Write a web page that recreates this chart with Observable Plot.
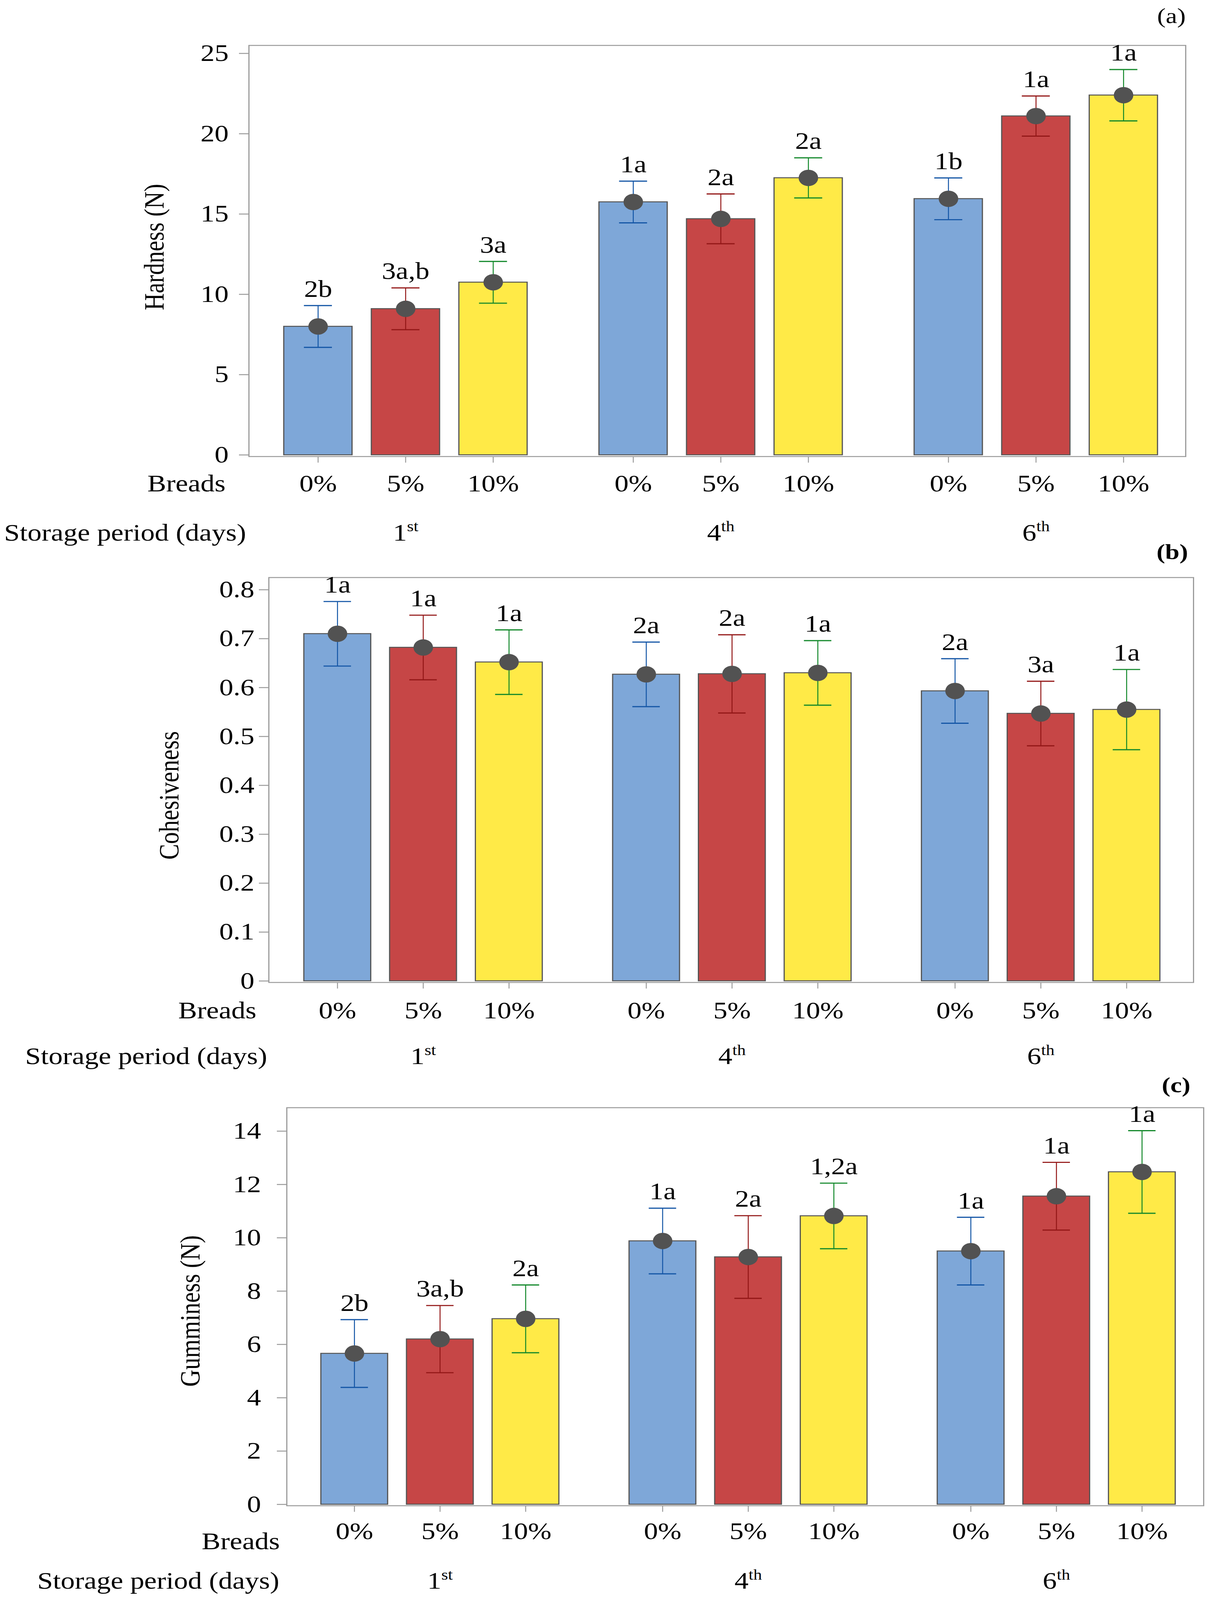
<!DOCTYPE html>
<html><head><meta charset="utf-8">
<script src="https://cdn.jsdelivr.net/npm/d3@7"></script>
<script src="https://cdn.jsdelivr.net/npm/@observablehq/plot@0.6"></script>
<style>
html,body{margin:0;padding:0;background:#fff;overflow:hidden;}
#chart{position:relative;width:3091px;height:4880px;background:#fff;transform-origin:0 0;}
#chart svg{display:block;position:absolute;left:0;max-width:none;}
</style></head><body><div id="chart"></div>
<script>
// ---- data ----
const storagePeriods = ["1st", "4th", "6th"];
const breads = ["0%", "5%", "10%"];

const hardnessMean = [8.0, 9.1, 10.75, 15.75, 14.7, 17.25, 15.95, 21.1, 22.4];
const hardnessErr = [1.3, 1.3, 1.3, 1.3, 1.55, 1.25, 1.3, 1.25, 1.6];
const hardnessLetters = ["2b", "3a,b", "3a", "1a", "2a", "2a", "1b", "1a", "1a"];
const hardnessTicks = [0, 5, 10, 15, 20, 25];

const cohesivenessMean = [0.71, 0.682, 0.652, 0.627, 0.628, 0.63, 0.593, 0.547, 0.555];
const cohesivenessErr = [0.066, 0.066, 0.066, 0.066, 0.08, 0.066, 0.066, 0.066, 0.082];
const cohesivenessLetters = ["1a", "1a", "1a", "2a", "2a", "1a", "2a", "3a", "1a"];
const cohesivenessTicks = [0, 0.1, 0.2, 0.3, 0.4, 0.5, 0.6, 0.7, 0.8];

const gumminessMean = [5.66, 6.2, 6.96, 9.88, 9.28, 10.82, 9.5, 11.56, 12.47];
const gumminessErr = [1.27, 1.26, 1.27, 1.23, 1.55, 1.23, 1.27, 1.27, 1.55];
const gumminessLetters = ["2b", "3a,b", "2a", "1a", "2a", "1,2a", "1a", "1a", "1a"];
const gumminessTicks = [0, 2, 4, 6, 8, 10, 12, 14];

// ---- styling ----
const FONT = "Liberation Serif";
const FS = 72;
const barFill = ["#7ea7d8", "#c64646", "#ffea47"];
const errColor = ["#1456a6", "#931717", "#12882a"];
const GROUP_STEP = 3.6;

function rowsFor(mean, err, letters) {
  return mean.map((m, i) => {
    const g = Math.floor(i / 3), b = i % 3;
    return {storage: storagePeriods[g], bread: breads[b], g, b,
            pos: g * GROUP_STEP + b, mean: m, err: err[i], letter: letters[i]};
  });
}

const panels = [
  {mean: hardnessMean, err: hardnessErr, letters: hardnessLetters, ticks: hardnessTicks,
   title: "Hardness (N)", tag: "(a)", tagBold: false,
   top: 0, h: 1700, mt: 138, mb: 308, ml: 637, mr: 55,
   xDomain: [-0.79, 9.91], yDomain: [-0.1, 25.5], tickPad: 27,
   tagDx: 0, tagDy: -89, titleDx: -242, titleDy: -12,
   breadsDx: -60, breadsDy: 83, rowDy: 83, storageDy: 233, storageTitleDx: -627,
   fmt: d => String(d)},
  {mean: cohesivenessMean, err: cohesivenessErr, letters: cohesivenessLetters, ticks: cohesivenessTicks,
   title: "Cohesiveness", tag: "(b)", tagBold: true,
   top: 1640, h: 1680, mt: 121, mb: 324, ml: 688, mr: 35,
   xDomain: [-0.8, 9.98], yDomain: [-0.003, 0.825], tickPad: 12,
   tagDx: -14, tagDy: -78, titleDx: -255, titleDy: 47,
   breadsDx: -32, breadsDy: 87, rowDy: 87, storageDy: 226, storageTitleDx: -624,
   fmt: d => String(+d.toFixed(1))},
  {mean: gumminessMean, err: gumminessErr, letters: gumminessLetters, ticks: gumminessTicks,
   title: "Gumminess (N)", tag: "(c)", tagBold: true,
   top: 3260, h: 1620, mt: 118, mb: 288, ml: 734, mr: 9,
   xDomain: [-0.79, 9.92], yDomain: [-0.05, 14.88], tickPad: 41,
   tagDx: -34, tagDy: -69, titleDx: -247, titleDy: 13,
   breadsDx: -18, breadsDy: 109, rowDy: 79, storageDy: 230, storageTitleDx: -639,
   fmt: d => String(d)}
];

const container = document.getElementById("chart");

for (const p of panels) {
  const rows = rowsFor(p.mean, p.err, p.letters);
  const positions = rows.map(d => d.pos);
  const half = 0.39, cap = 0.16;
  const svg = Plot.plot({
    width: 3091,
    height: p.h,
    marginTop: p.mt, marginBottom: p.mb, marginLeft: p.ml, marginRight: p.mr,
    style: {fontFamily: FONT, fontSize: FS + "px", color: "black", background: "transparent", overflow: "visible"},
    x: {type: "linear", domain: p.xDomain},
    y: {domain: p.yDomain},
    marks: [
      Plot.rectY(rows, {x1: d => d.pos - half, x2: d => d.pos + half, y1: 0, y2: "mean",
        fill: d => barFill[d.b], stroke: "#555555", strokeWidth: 3}),
      Plot.frame({stroke: "#9c9c9c", strokeWidth: 3}),
      Plot.axisY({ticks: p.ticks, tickSize: 25, tickPadding: p.tickPad, tickFormat: p.fmt,
        stroke: "#9c9c9c", strokeWidth: 3, fill: "black", fontSize: FS, label: null}),
      Plot.axisX({ticks: positions, tickSize: 19, tickFormat: () => "",
        stroke: "#9c9c9c", strokeWidth: 2.5, label: null}),
      Plot.ruleX(rows, {x: "pos", y1: d => d.mean - d.err, y2: d => d.mean + d.err,
        stroke: d => errColor[d.b], strokeWidth: 2.5}),
      Plot.ruleY(rows, {y: d => d.mean + d.err, x1: d => d.pos - cap, x2: d => d.pos + cap,
        stroke: d => errColor[d.b], strokeWidth: 3.5}),
      Plot.ruleY(rows, {y: d => d.mean - d.err, x1: d => d.pos - cap, x2: d => d.pos + cap,
        stroke: d => errColor[d.b], strokeWidth: 3.5}),
      Plot.dot(rows, {x: "pos", y: "mean", r: 25, fill: "#525252", stroke: "none"}),
      Plot.text(rows, {x: "pos", y: d => d.mean + d.err, text: "letter", dy: -27,
        lineAnchor: "bottom", fontSize: FS, fill: "black"}),
      Plot.text(rows, {x: "pos", text: "bread", frameAnchor: "bottom", dy: p.rowDy,
        lineAnchor: "middle", fontSize: FS, fill: "black"}),
      Plot.text(storagePeriods, {x: (d, i) => i * GROUP_STEP + 1, text: d => d, frameAnchor: "bottom",
        dy: p.storageDy, lineAnchor: "middle", fontSize: FS, fill: "black"}),
      Plot.text(["Breads"], {frameAnchor: "bottom-left", dx: p.breadsDx, dy: p.breadsDy,
        textAnchor: "end", lineAnchor: "middle", fontSize: FS, fill: "black"}),
      Plot.text(["Storage period (days)"], {frameAnchor: "bottom-left", dx: p.storageTitleDx, dy: p.storageDy,
        textAnchor: "start", lineAnchor: "middle", fontSize: FS, fill: "black"}),
      Plot.text([p.title], {frameAnchor: "left", dx: p.titleDx, dy: p.titleDy, rotate: -90,
        textAnchor: "middle", lineAnchor: "middle", fontSize: FS, fill: "black"}),
      Plot.text([p.tag], {frameAnchor: "top-right", dx: p.tagDx, dy: p.tagDy,
        textAnchor: "end", lineAnchor: "middle", fontSize: 66, fill: "black",
        fontWeight: p.tagBold ? "bold" : "normal"})
    ]
  });
  // superscript ordinal suffixes (1st, 4th, 6th)
  svg.querySelectorAll("text").forEach(t => {
    if (t.children.length) return;
    const m = /^(\d+)(st|nd|rd|th)$/.exec(t.textContent);
    if (!m) return;
    t.textContent = m[1];
    const ts = document.createElementNS("http://www.w3.org/2000/svg", "tspan");
    ts.setAttribute("font-size", "44");
    ts.setAttribute("dy", "-28");
    ts.textContent = m[2];
    t.appendChild(ts);
  });
  svg.style.top = p.top + "px";
  container.appendChild(svg);
}

// If the visible viewport is shorter than the figure, fit the figure into it vertically
const vh = window.innerHeight;
if (vh && vh < 4880) {
  container.style.transform = `scale(1, ${vh / 4880})`;
}
</script>
</body></html>
